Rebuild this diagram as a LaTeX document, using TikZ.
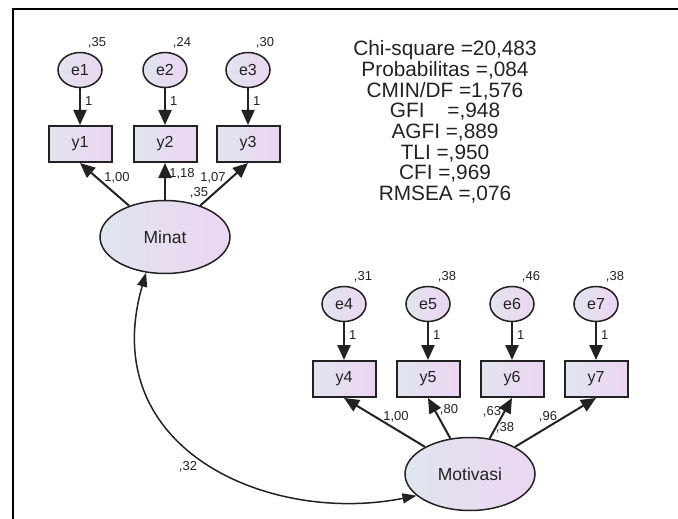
\documentclass[tikz,border=0pt]{standalone}
\usepackage{fontspec}
\setmainfont{Liberation Sans}
\usetikzlibrary{arrows.meta,shapes.geometric}
\definecolor{semink}{HTML}{222222}
\definecolor{semleft}{HTML}{E0E5EE}
\definecolor{semright}{HTML}{ECD5F2}
\newcommand{\fitstats}{Chi-square =20,483\\ Probabilitas =,084\\ CMIN/DF =1,576\\
  GFI\hspace{1.1em}=,948\\ AGFI =,889\\ TLI =,950\\ CFI =,969\\ RMSEA =,076}

\begin{document}
\begin{tikzpicture}[x=1pt,y=-1pt,
    obsbox/.style={draw=semink,line width=2pt,left color=semleft,right color=semright,
      minimum width=63pt,minimum height=36pt,inner sep=0,text=semink,
      font=\fontsize{16}{19}\selectfont},
    errvar/.style={ellipse,draw=semink,line width=1.5pt,left color=semleft,right color=semright,
      minimum width=44pt,minimum height=35pt,inner sep=0,text=semink,
      font=\fontsize{16}{19}\selectfont},
    latvar/.style={ellipse,draw=semink,line width=1.5pt,left color=semleft,right color=semright,
      minimum width=130pt,minimum height=73pt,inner sep=0,text=semink,
      font=\fontsize{17.5}{20}\selectfont},
    coef/.style={inner sep=0,text=semink,font=\fontsize{13}{15}\selectfont},
    fixarrow/.style={draw=semink,line width=2.2pt,-{Triangle[length=15pt,width=13pt]}},
    loadarrow/.style={draw=semink,line width=2pt,-{Triangle[length=15pt,width=13pt]}},
    covarrow/.style={draw=semink,line width=1.5pt,
      {Triangle[length=14pt,width=10pt]}-{Triangle[length=14pt,width=10pt]}}]
  \useasboundingbox (0,0) rectangle (678,519);
  \draw[line width=2.5pt] (678,9) -- (13,9) -- (13,519);

  % latent variables
  \node[latvar] (minat) at (165,237) {Minat};
  \node[latvar] (motivasi) at (470,474) {Motivasi};
  \node[coef] (vminat) at (199,193) {,35};
  \node[coef] (vmotivasi) at (505,428) {,38};

  % indicators of Minat
  \foreach \i/\x/\v in {1/80/35,2/165/24,3/248/30}{
    \node[errvar] (e\i) at (\x,70) {e\i};
    \node[obsbox] (y\i) at (\x,144) {y\i};
    \node[coef] (ve\i) at (\x+17,43) {,\v};
    \draw[fixarrow] (e\i) -- (y\i) node[coef,pos=0.35,anchor=west,xshift=4pt] (w\i) {1};
  }
  % indicators of Motivasi
  \foreach \i/\x/\v in {4/344/31,5/428/38,6/512/46,7/596/38}{
    \node[errvar] (e\i) at (\x,304) {e\i};
    \node[obsbox] (y\i) at (\x,379) {y\i};
    \node[coef] (ve\i) at (\x+19,277) {,\v};
    \draw[fixarrow] (e\i) -- (y\i) node[coef,pos=0.35,anchor=west,xshift=4pt] (w\i) {1};
  }

  % loadings
  \foreach \i/\lx/\ly/\w in {1/117/178/{1,00},2/182/174/{1,18},3/213/178/{1,07}}{
    \draw[loadarrow] (minat) -- (y\i.south);
    \node[coef] (l\i) at (\lx,\ly) {\w};
  }
  \foreach \i/\lx/\ly/\w in {4/396/417/{1,00},5/449/410/{,80},6/492/412/{,63},7/548/417/{,96}}{
    \draw[loadarrow] (motivasi) -- (y\i.south);
    \node[coef] (l\i) at (\lx,\ly) {\w};
  }

  % covariance
  \draw[covarrow] (minat.-118) .. controls (95,450) and (270,525) .. (motivasi.-158);
  \node[coef] (cov) at (188,467) {,32};

  % fit indices
  \node[align=center,text=semink,inner sep=0,font=\fontsize{20.8}{20.7}\selectfont]
    (fit) at (445,122) {\fitstats};
\end{tikzpicture}
\end{document}
